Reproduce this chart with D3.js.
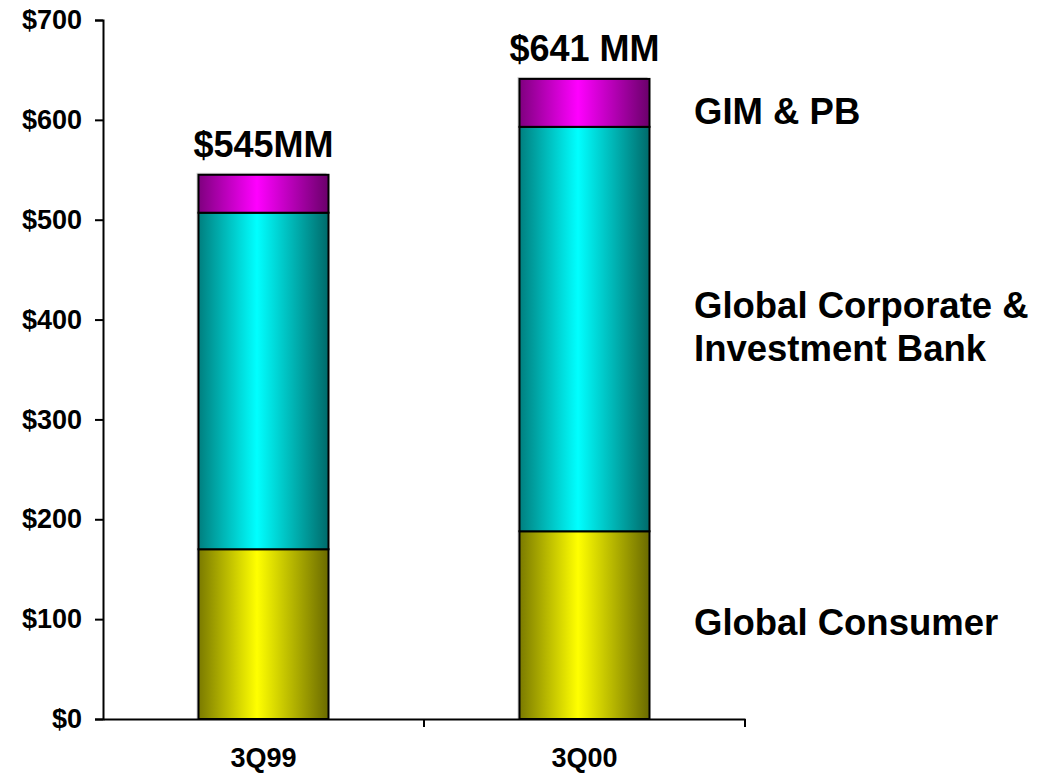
<!DOCTYPE html>
<html>
<head>
<meta charset="utf-8">
<script src="https://cdn.jsdelivr.net/npm/d3@7/dist/d3.min.js"></script>
<style>
  html, body { margin: 0; padding: 0; background: #fff; }
  svg text { font-family: "Liberation Sans", Arial, sans-serif; font-weight: bold; fill: #000; }
</style>
</head>
<body>
<svg id="chart" width="1053" height="774"></svg>
<script>
// Quarterly earnings by business segment, $MM
const quarters = ["3Q99", "3Q00"];
const segments = ["Global Consumer", "Global Corporate & Investment Bank", "GIM & PB"];
const globalConsumer = [170, 188];
const globalCorporate = [337, 405];
const gimPb = [38, 48];
const totalLabels = ["$545MM", "$641 MM"];
const yTicks = [0, 100, 200, 300, 400, 500, 600, 700];
const segmentLabels = [
  { key: "GIM & PB", lines: ["GIM & PB"], at: 596 },
  { key: "Global Corporate & Investment Bank", lines: ["Global Corporate &", "Investment Bank"], at: 402 },
  { key: "Global Consumer", lines: ["Global Consumer"], at: 84 }
];

const rows = quarters.map((q, i) => ({
  quarter: q,
  "Global Consumer": globalConsumer[i],
  "Global Corporate & Investment Bank": globalCorporate[i],
  "GIM & PB": gimPb[i]
}));
const totals = quarters.map((q, i) => globalConsumer[i] + globalCorporate[i] + gimPb[i]);
const stacked = d3.stack().keys(segments)(rows);

const svg = d3.select("#chart");
const margin = { left: 103, right: 308, top: 20, bottom: 55 };
const W = 1053, H = 774;

const x = d3.scaleBand().domain(quarters)
  .range([margin.left, W - margin.right]).paddingInner(0.595).paddingOuter(0.2975);
const y = d3.scaleLinear().domain([0, 700]).range([H - margin.bottom, margin.top]);

// Cylinder-like horizontal shading for each segment colour
const palette = {
  "Global Consumer": ["#7a7a00", "#ffff00", "#6a6a00"],
  "Global Corporate & Investment Bank": ["#007f7f", "#00ffff", "#006a6a"],
  "GIM & PB": ["#7f007f", "#ff00ff", "#6a006a"]
};
const defs = svg.append("defs");
segments.forEach((s, i) => {
  const g = defs.append("linearGradient").attr("id", "grad" + i)
    .attr("x1", "0%").attr("x2", "100%").attr("y1", "0%").attr("y2", "0%");
  const [dark, bright, darkR] = palette[s];
  g.append("stop").attr("offset", "0%").attr("stop-color", dark);
  g.append("stop").attr("offset", "45%").attr("stop-color", bright);
  g.append("stop").attr("offset", "100%").attr("stop-color", darkR);
});

// faint shadow outline behind each stack
svg.append("g").selectAll("rect")
  .data(rows)
  .join("rect")
  .attr("x", d => x(d.quarter) - 2)
  .attr("y", (d, i) => y(totals[i]) - 2)
  .attr("width", x.bandwidth())
  .attr("height", (d, i) => y(0) - y(totals[i]) + 2)
  .attr("fill", "#d4d4d4");

// stacked bars
svg.append("g").selectAll("g")
  .data(stacked)
  .join("g")
  .attr("fill", (d, i) => `url(#grad${i})`)
  .selectAll("rect")
  .data(d => d.map(v => ({ v, q: v.data.quarter })))
  .join("rect")
  .attr("x", d => x(d.q))
  .attr("y", d => y(d.v[1]))
  .attr("width", x.bandwidth())
  .attr("height", d => y(d.v[0]) - y(d.v[1]))
  .attr("stroke", "#000")
  .attr("stroke-width", 2);

// y axis
const yAxis = svg.append("g")
  .attr("transform", `translate(${margin.left},0)`)
  .call(d3.axisLeft(y).tickValues(yTicks).tickFormat(d => "$" + d).tickSize(8).tickPadding(13));
yAxis.select(".domain").attr("stroke", "#000").attr("stroke-width", 2);
yAxis.selectAll(".tick line").attr("stroke", "#000").attr("stroke-width", 2);
yAxis.selectAll(".tick text")
  .style("font-size", "27px")
  .style("font-family", "'Liberation Sans', Arial, sans-serif")
  .style("font-weight", "bold")
  .attr("fill", "#000");

// x axis with boundary ticks between categories
const xAxis = svg.append("g")
  .attr("transform", `translate(0,${y(0)})`)
  .call(d3.axisBottom(x).tickSize(0).tickPadding(29));
xAxis.select(".domain").attr("stroke", "#000").attr("stroke-width", 2);
xAxis.selectAll(".tick text")
  .style("font-size", "27px")
  .style("font-family", "'Liberation Sans', Arial, sans-serif")
  .style("font-weight", "bold")
  .attr("fill", "#000");
const step = x.step();
const bounds = quarters.map(q => x(q) - x.paddingInner() * step / 2);
bounds.push(W - margin.right);
xAxis.selectAll(".bound")
  .data(bounds.slice(1))
  .join("line")
  .attr("class", "bound")
  .attr("x1", d => d).attr("x2", d => d)
  .attr("y1", 0).attr("y2", 8)
  .attr("stroke", "#000").attr("stroke-width", 2);

// total labels above each bar
svg.append("g").selectAll("text")
  .data(rows)
  .join("text")
  .attr("x", d => x(d.quarter) + x.bandwidth() / 2)
  .attr("y", (d, i) => y(totals[i]) - 18)
  .attr("text-anchor", "middle")
  .style("font-size", "36px")
  .text((d, i) => totalLabels[i]);

// segment names to the right
const seg = svg.append("g").selectAll("text")
  .data(segmentLabels)
  .join("text")
  .attr("x", 694)
  .attr("y", d => y(d.at))
  .style("font-size", "36.5px");
seg.selectAll("tspan")
  .data(d => d.lines)
  .join("tspan")
  .attr("x", 694)
  .attr("dy", (d, i) => i === 0 ? 0 : 43)
  .text(d => d);
</script>
</body>
</html>
